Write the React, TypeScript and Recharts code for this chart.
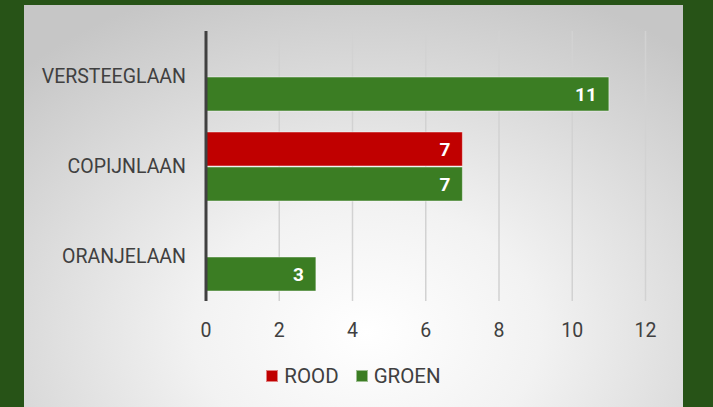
import React from "react";
import { BarChart, Bar, XAxis, YAxis, CartesianGrid, Legend, LabelList } from "recharts";

const categories = ["VERSTEEGLAAN", "COPIJNLAAN", "ORANJELAAN"];
const seriesNames = ["ROOD", "GROEN"];
const rood: (number | null)[] = [null, 7, null];
const groen: (number | null)[] = [11, 7, 3];
const xTicks = [0, 2, 4, 6, 8, 10, 12];

const data = categories.map((c, i) => ({ name: c, ROOD: rood[i], GROEN: groen[i] }));

const FONT = "Roboto, 'Noto Sans', sans-serif";
const TEXT = "#404040";

const fmt = (v: any) => (v === null || v === undefined || v === 0 ? "" : String(v));

const LegendContent = (props: any) => {
  const payload = [...(props.payload || [])].sort(
    (a: any, b: any) => seriesNames.indexOf(a.value) - seriesNames.indexOf(b.value)
  );
  return (
    <div style={{ display: "flex", justifyContent: "center", alignItems: "center", fontFamily: FONT, fontSize: 20.5, color: TEXT }}>
      {payload.map((p: any, i: number) => (
        <div key={i} style={{ display: "flex", alignItems: "center", marginRight: i === 0 ? 17 : 0 }}>
          <span style={{ display: "inline-block", width: 10, height: 10, background: p.color, border: "1px solid rgba(255,255,255,0.5)", marginRight: 6 }} />
          <span>{p.value}</span>
        </div>
      ))}
    </div>
  );
};

export default function App() {
  return (
    <div style={{ position: "fixed", left: 0, top: 0, width: 713, height: 407, background: "#275317", overflow: "hidden" }}>
      <div
        style={{
          position: "absolute",
          left: 24,
          top: 5,
          width: 659,
          height: 410,
          background: "radial-gradient(ellipse 75% 90% at 52% 80%, #ffffff 0%, #f2f2f2 35%, #c6c6c6 100%)",
        }}
      >
        <BarChart
          width={659}
          height={402}
          data={data}
          layout="vertical"
          margin={{ top: 26, right: 37.5, left: 0, bottom: 56 }}
          barSize={34}
          barGap={1}
        >
          <CartesianGrid horizontal={false} vertical={true} stroke="#d2d2d2" strokeWidth={1.5} />
          <XAxis
            type="number"
            domain={[0, 12]}
            ticks={xTicks}
            axisLine={false}
            tickLine={false}
            tickSize={0}
            tickMargin={22}
            height={50}
            tick={{ fill: TEXT, fontSize: 19.5, fontFamily: FONT }}
          />
          <YAxis
            type="category"
            dataKey="name"
            width={182}
            axisLine={{ stroke: "#404040", strokeWidth: 3 }}
            tickLine={false}
            tickSize={0}
            tickMargin={20}
            tick={{ fill: TEXT, fontSize: 19.5, fontFamily: FONT }}
          />
          <Legend
            layout="horizontal"
            verticalAlign="middle"
            align="center"
            wrapperStyle={{ top: 359, left: 0, width: 659 }}
            content={<LegendContent />}
          />
          <Bar dataKey="ROOD" fill="#c00000" stroke="rgba(255,255,255,0.45)" strokeWidth={1} isAnimationActive={false}>
            <LabelList dataKey="ROOD" position="insideRight" offset={12} formatter={fmt} fill="#ffffff" style={{ fontWeight: 700, fontSize: 19, fontFamily: FONT }} />
          </Bar>
          <Bar dataKey="GROEN" fill="#3b7d23" stroke="rgba(255,255,255,0.45)" strokeWidth={1} isAnimationActive={false}>
            <LabelList dataKey="GROEN" position="insideRight" offset={12} formatter={fmt} fill="#ffffff" style={{ fontWeight: 700, fontSize: 19, fontFamily: FONT }} />
          </Bar>
        </BarChart>
      </div>
    </div>
  );
}
